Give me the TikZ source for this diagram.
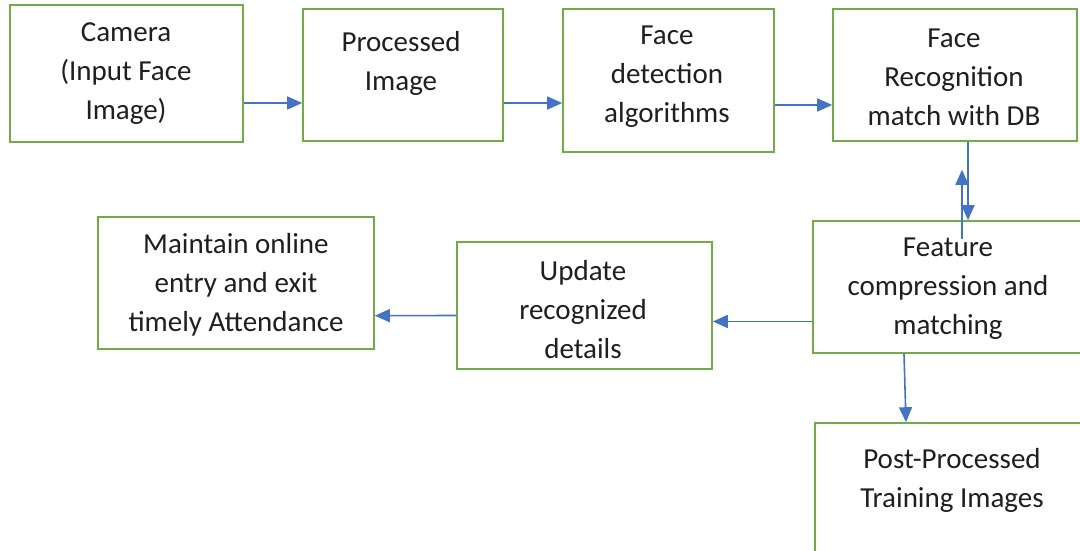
\documentclass[tikz,border=0pt]{standalone}
\usepackage{fontspec}
\setmainfont{Carlito}
\usetikzlibrary{arrows.meta,calc}
\definecolor{boxgreen}{RGB}{112,173,71}
\definecolor{flowblue}{RGB}{68,114,196}
\tikzset{
  stage/.style={draw=boxgreen, line width=1.6pt, fill=white, rectangle, inner sep=0pt},
  caption/.style={align=center, text=black!88, inner sep=0pt,
    font=\fontsize{29}{39}\selectfont},
  flow/.style={draw=flowblue, line width=1.6pt,
    -{Triangle[length=15pt,width=13pt]}}
}
\begin{document}
\begin{tikzpicture}[x=1pt,y=-1pt]
  \useasboundingbox (0,0) rectangle (1080,551);
  \clip (0,0) rectangle (1080,551);

  % stage boxes
  \node[stage, minimum width=233pt, minimum height=137pt] (cam)  at (126.5,73.5) {};
  \node[stage, minimum width=200pt, minimum height=132pt] (proc) at (403,75) {};
  \node[stage, minimum width=211pt, minimum height=143pt] (det)  at (668.5,80.5) {};
  \node[stage, minimum width=244pt, minimum height=132pt] (rec)  at (955,75) {};
  \node[stage, minimum width=282pt, minimum height=132pt] (feat) at (954,287) {};
  \node[stage, minimum width=255pt, minimum height=127pt] (upd)  at (584.5,305.5) {};
  \node[stage, minimum width=276pt, minimum height=132pt] (main) at (236,283) {};
  \node[stage, minimum width=280pt, minimum height=177pt] (post) at (955,511.5) {};

  % stage texts
  \node[caption] (camT)  at (126,74)  {Camera\\(Input Face\\Image)};
  \node[caption] (procT) at (401,63)  {Processed\\Image};
  \node[caption] (detT)  at (667,77)  {Face\\detection\\algorithms};
  \node[caption] (recT)  at (954,77)  {Face\\Recognition\\match with DB};
  \node[caption] (featT) at (948,289) {Feature\\compression and\\matching};
  \node[caption] (updT)  at (583,310) {Update\\recognized\\details};
  \node[caption] (mainT) at (236,285) {Maintain online\\entry and exit\\timely Attendance};
  \node[caption] (postT) at (952,480) {Post-Processed\\Training Images};

  % top row flow
  \draw[flow] ([yshift=-29.5pt]cam.east) -- ([yshift=-28pt]proc.west);
  \draw[flow] ([yshift=-28pt]proc.east) -- ([yshift=-22.5pt]det.west);
  \draw[flow] ([yshift=-24.5pt]det.east) -- ([yshift=-30pt]rec.west);

  % recognition <-> feature matching
  \coordinate (uptip) at ([xshift=7pt,yshift=-28pt]rec.south);
  \draw[flow] ([xshift=13pt]rec.south) -- ([xshift=14pt]feat.north);
  \draw[flow] ([xshift=8pt,yshift=-19pt]feat.north) -- (uptip);

  % bottom row flow
  \draw[flow] ([yshift=-34.5pt]feat.west) -- ([yshift=-16pt]upd.east);
  \draw[flow] ([yshift=-10pt]upd.west) -- ([yshift=-32.7pt]main.east);
  \draw[flow] ([xshift=-50pt]feat.south) -- ([xshift=-49pt]post.north);
\end{tikzpicture}
\end{document}
